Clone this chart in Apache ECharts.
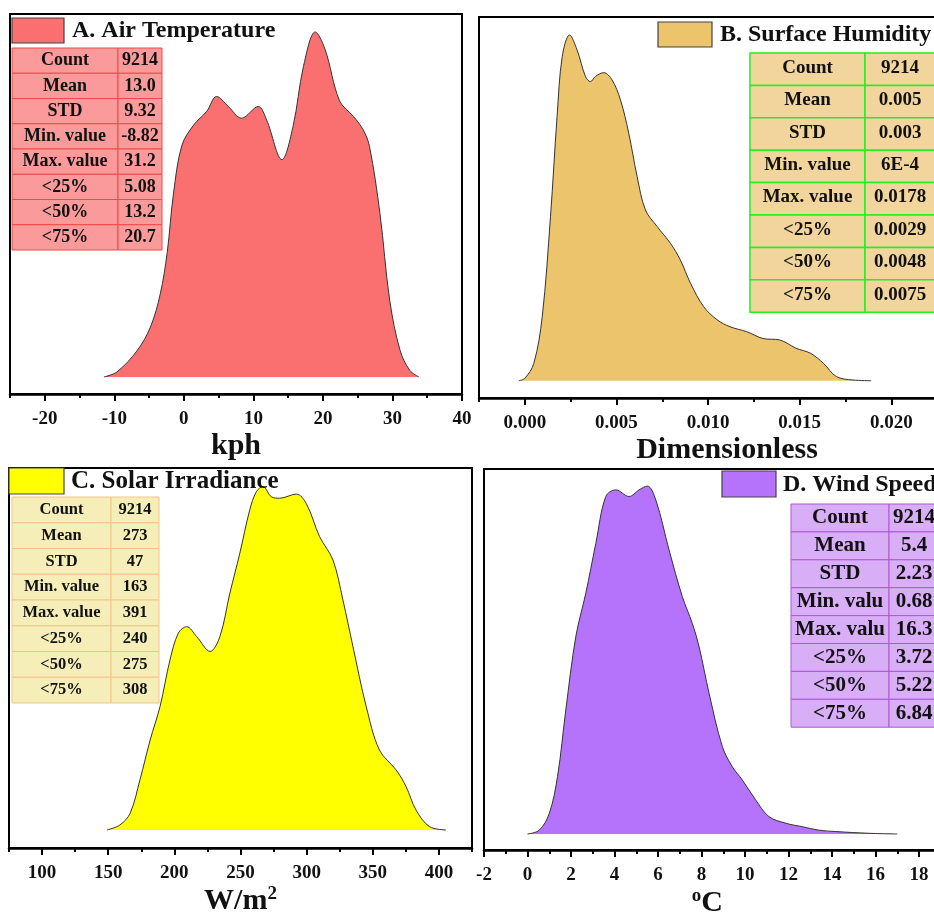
<!DOCTYPE html>
<html>
<head>
<meta charset="utf-8">
<script src="https://cdn.jsdelivr.net/npm/echarts@6/dist/echarts.min.js"></script>
<style>html,body{margin:0;padding:0;background:#fff}#c{width:934px;height:913px}</style>
</head>
<body>
<div id="c"></div>
<script>
// ---------- DATA ----------
// A. Air Temperature (relative density, peak = 100)
const airX = [-11.5,-9.6,-6.7,-4.8,-3.4,-2.4,-1.5,-0.3,1.4,3.3,4.7,6.4,8.3,10.7,11.9,14.1,15.7,17.2,18.9,20.3,22.4,24.4,25.8,26.7,28.2,29.6,31.1,32.5,33.8];
const airY = [0,1.5,7.7,14.5,24,36,53,67,73,77,81.3,78.4,75,78.4,74.5,63,72.6,90,100,95,80,75.5,71.6,66.8,47.4,22.3,7.7,1.9,0];
// B. Surface Humidity
const humX = [-0.00033,0.0000,0.00049,0.00095,0.0014,0.00176,0.00204,0.00244,0.00285,0.00331,0.00358,0.00385,0.00431,0.00476,0.00522,0.00567,0.00613,0.00658,0.00722,0.00795,0.00849,0.00904,0.00976,0.0105,0.0112,0.0121,0.013,0.0139,0.0148,0.0156,0.0163,0.017,0.0179,0.0189];
const humY = [0,0.7,5,18.5,47.4,76.4,93.7,100,95.7,88,86.5,88,89.1,87,81.2,71.6,59,49.4,44.6,39.7,34.9,28.2,21.4,17.6,15.6,14.2,12.2,11.8,9.4,7.9,5,1.2,0.2,0];
// C. Solar Irradiance
const solX = [149,159,166.6,174,181.7,189.2,196.7,203,209.3,216.9,227,234.4,242,249.5,257,262,267,273.4,279.6,292.2,299.8,309.8,319.9,327.4,335,345,355,367.6,375.2,382.7,392.8,405.3];
const solY = [0,1.5,4.9,14.6,26.2,36,49.5,57.3,59.2,56.3,52,56.3,69,80.6,93.2,98.5,100,97,96.6,97.8,95,85.4,78.6,67,53.4,36,23.3,17.5,12.6,5.8,1,0];
// D. Wind Speed
const windX = [0,0.54,1.0,1.38,1.76,2.22,2.68,3.14,3.6,4.06,4.67,5.13,5.51,5.9,6.51,7.12,7.58,7.89,8.35,8.96,9.42,9.88,10.49,11.1,11.87,12.63,13.4,14.17,15.7,17];
const windY = [0,1.1,5.9,16.5,35.6,56.7,69.2,83.5,97,98.9,97,98.9,100,96,81.6,68.2,60.5,53.8,40.4,25.1,19.3,15.5,9.8,5,3.1,2.1,1.1,0.7,0.2,0];

// Tick labels
const ticksA = [-20,-10,0,10,20,30,40];
const ticksB = [0,0.005,0.010,0.015,0.020,0.025];
const ticksC = [100,150,200,250,300,350,400];
const ticksD = [-2,0,2,4,6,8,10,12,14,16,18,20];

// Statistics tables
const statLabels = ['Count','Mean','STD','Min. value','Max. value','<25%','<50%','<75%'];
const statLabelsD = ['Count','Mean','STD','Min. valu','Max. valu','<25%','<50%','<75%'];
const statsA = ['9214','13.0','9.32','-8.82','31.2','5.08','13.2','20.7'];
const statsB = ['9214','0.005','0.003','6E-4','0.0178','0.0029','0.0048','0.0075'];
const statsC = ['9214','273','47','163','391','240','275','308'];
const statsD = ['9214','5.4','2.23','0.68','16.3','3.72','5.22','6.84'];

const titles = ['A. Air Temperature','B. Surface Humidity','C. Solar Irradiance','D. Wind Speed'];
const units = ['kph','Dimensionless','W/m{sup|2}','{sup|o}C'];

// ---------- LAYOUT / STYLE ----------
const FONT = "'Liberation Serif','Times New Roman',serif";
const colors = ['#FA7070','#EBC46B','#FFFF00','#B473FA'];

const grids = [
  {left:10, top:14, width:452, height:380},
  {left:479, top:17, width:504, height:381},
  {left:9, top:468, width:463, height:380},
  {left:484, top:469, width:478.5, height:381}
];
const ranges = [
  {min:-25, max:40, minor:5, ymin:-4.93, ymax:105.2},
  {min:-0.0025, max:0.025, minor:0.0025, ymin:-5.0, ymax:105.2},
  {min:75, max:425, minor:25, ymin:-5.24, ymax:105.4},
  {min:-2, max:20, minor:1, ymin:-4.6, ymax:104.9}
];
const tickSets = [ticksA, ticksB, ticksC, ticksD];
const fmt = [v=>String(v), v=>v.toFixed(3), v=>String(v), v=>String(v)];
const namePad = [[0,0,0,0],[0,8,0,0],[0,0,0,0],[0,32,0,0]];

const xAxes = [], yAxes = [], series = [];
const seriesData = [[airX,airY],[humX,humY],[solX,solY],[windX,windY]];
for (let i = 0; i < 4; i++) {
  const r = ranges[i];
  xAxes.push({
    gridIndex:i, type:'value', min:r.min, max:r.max, position:'bottom',
    axisLine:{show:true, onZero:false, lineStyle:{color:'#000', width:2.5}},
    axisTick:{show:true, customValues:tickSets[i], length:7, inside:false, lineStyle:{color:'#000', width:2}},
    axisLabel:{show:true, customValues:tickSets[i], formatter:fmt[i], margin:16,
      fontFamily:FONT, fontWeight:'bold', fontSize:19, color:'#111'},
    splitLine:{show:false},
    name:units[i], nameLocation:'middle', nameGap:37,
    nameTextStyle:{fontFamily:FONT, fontWeight:'bold', fontSize:30, color:'#111', padding:namePad[i],
      rich:{sup:{fontFamily:FONT, fontWeight:'bold', fontSize:19, color:'#111', verticalAlign:'top', padding:[0,0,14,0]}}}
  });
  yAxes.push({gridIndex:i, type:'value', min:r.ymin, max:r.ymax, show:false, splitLine:{show:false}});
  const d = seriesData[i][0].map((x,k)=>[x, seriesData[i][1][k]]);
  series.push({
    type:'line', xAxisIndex:i, yAxisIndex:i, data:d, smooth:0.35, symbol:'none',
    lineStyle:{color:'#333', width:1},
    areaStyle:{color:colors[i], opacity:1, origin:0},
    silent:true, z:2
  });
}
// minor tick axes
for (let i = 0; i < 4; i++) {
  const r = ranges[i];
  xAxes.push({
    gridIndex:i, type:'value', min:r.min, max:r.max, interval:r.minor, position:'bottom',
    axisLine:{show:false, onZero:false}, axisLabel:{show:false}, splitLine:{show:false},
    axisTick:{show:true, length:4, lineStyle:{color:'#000', width:2}}
  });
}

// ---------- graphics: legends & tables ----------
const graphic = [];
function legend(x, y, w, h, color, text, tx, ty, fs) {
  graphic.push({type:'rect', shape:{x:x, y:y, width:w, height:h}, style:{fill:color, stroke:'#444', lineWidth:1.2}, z:10});
  graphic.push({type:'text', x:tx, y:ty, style:{text:text, font:'bold '+fs+'px '+FONT, fill:'#111', verticalAlign:'middle', align:'left'}, z:11});
}
function table(x, y, w1, w2, rh, labels, vals, fill, stroke, fs, lw, textOff) {
  for (let r = 0; r < labels.length; r++) {
    const ry = y + r*rh;
    graphic.push({type:'rect', shape:{x:x, y:ry, width:w1, height:rh}, style:{fill:fill, stroke:stroke, lineWidth:lw}, z:10});
    graphic.push({type:'rect', shape:{x:x+w1, y:ry, width:w2, height:rh}, style:{fill:fill, stroke:stroke, lineWidth:lw}, z:10});
    const cy = ry + rh*textOff;
    graphic.push({type:'text', x:x+w1/2, y:cy, style:{text:labels[r], font:'bold '+fs+'px '+FONT, fill:'#111', align:'center', verticalAlign:'middle'}, z:11});
    graphic.push({type:'text', x:x+w1+w2/2, y:cy, style:{text:vals[r], font:'bold '+fs+'px '+FONT, fill:'#111', align:'center', verticalAlign:'middle'}, z:11});
  }
}
legend(12, 18, 52, 25, colors[0], titles[0], 72, 31, 24);
legend(658, 22, 54, 25, colors[1], titles[1], 720, 35, 24);
legend(9, 468, 55, 26, colors[2], titles[2], 71, 482, 25);
legend(722, 471, 54, 26, colors[3], titles[3], 783, 485, 24);

table(12, 48, 106, 44, 25.25, statLabels, statsA, '#FA9A9A', '#EE4A4A', 18, 1, 0.5);
table(750, 53, 115, 70, 32.4, statLabels, statsB, '#F2D59D', '#22EE22', 19, 1.5, 0.46);
table(12, 497, 99, 48, 25.75, statLabels, statsC, '#F5EEB8', '#F3C48A', 16.5, 1, 0.5);
table(791, 504, 98, 50, 27.9, statLabelsD, statsD, '#D8AEF7', '#B055D8', 21, 1, 0.5);

const chart = echarts.init(document.getElementById('c'), null, {renderer:'canvas'});
chart.setOption({
  animation:false,
  backgroundColor:'#fff',
  grid: grids.map(g => Object.assign({show:true, borderColor:'#000', borderWidth:2, backgroundColor:'transparent', containLabel:false, outerBoundsMode:'none'}, g)),
  xAxis: xAxes,
  yAxis: yAxes,
  series: series,
  graphic: graphic
});
</script>
</body>
</html>
